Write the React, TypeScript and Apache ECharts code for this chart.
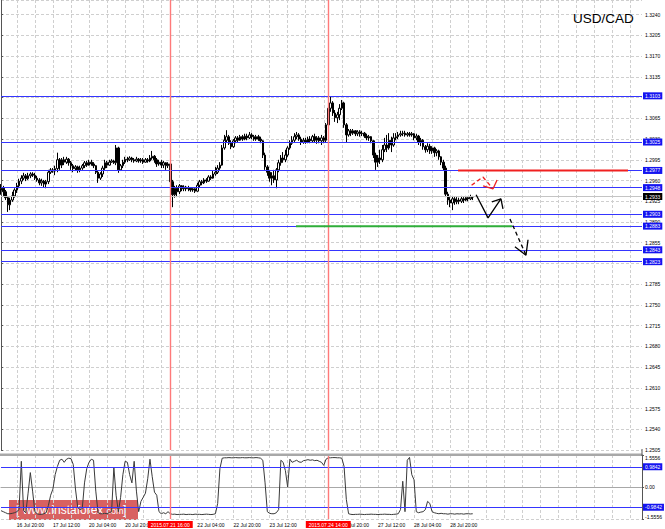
import React, { useEffect, useRef } from 'react';
import * as echarts from 'echarts';

// ---------- data ----------
const SYMBOL = 'USD/CAD';
const FIRST_BAR_UTC = Date.UTC(2015, 6, 16, 13); // 16 Jul 2015 13:00, H1 bars
const SLOT_COUNT = 285; // bars + empty right-hand shift

// [open, close, low, high]
const candles: number[][] = [
  [1.2944,1.2947,1.2936,1.2954],[1.2947,1.2941,1.2934,1.2951],[1.2941,1.2931,1.2927,1.2944],[1.2931,1.2919,1.2907,1.2934],[1.2919,1.2927,1.2910,1.2931],
  [1.2927,1.2934,1.2924,1.2941],[1.2934,1.2944,1.2931,1.2947],[1.2944,1.2951,1.2939,1.2956],[1.2951,1.2959,1.2947,1.2963],[1.2959,1.2964,1.2954,1.2969],
  [1.2964,1.2968,1.2961,1.2973],[1.2968,1.2963,1.2959,1.2971],[1.2963,1.2968,1.2961,1.2973],[1.2968,1.2971,1.2964,1.2974],[1.2971,1.2969,1.2966,1.2974],
  [1.2969,1.2964,1.2961,1.2973],[1.2964,1.2961,1.2958,1.2968],[1.2961,1.2956,1.2952,1.2964],[1.2956,1.2959,1.2951,1.2963],[1.2959,1.2954,1.2949,1.2961],
  [1.2954,1.2958,1.2947,1.2961],[1.2958,1.2974,1.2954,1.2978],[1.2974,1.2978,1.2971,1.2981],[1.2978,1.2976,1.2973,1.2981],[1.2976,1.2980,1.2969,1.2985],
  [1.2980,1.2995,1.2974,1.3007],[1.2995,1.2986,1.2978,1.2998],[1.2986,1.2995,1.2981,1.2998],[1.2995,1.2991,1.2986,1.3000],[1.2991,1.2996,1.2988,1.3000],
  [1.2996,1.2990,1.2985,1.2998],[1.2990,1.2985,1.2978,1.2993],[1.2985,1.2980,1.2974,1.2988],[1.2980,1.2983,1.2976,1.2986],[1.2983,1.2978,1.2973,1.2985],
  [1.2978,1.2981,1.2974,1.2985],[1.2981,1.2985,1.2978,1.2988],[1.2985,1.2990,1.2981,1.2993],[1.2990,1.2986,1.2983,1.2993],[1.2986,1.2991,1.2985,1.2995],
  [1.2991,1.2988,1.2985,1.2995],[1.2988,1.2985,1.2981,1.2991],[1.2985,1.2974,1.2971,1.2986],[1.2974,1.2964,1.2956,1.2976],[1.2964,1.2971,1.2961,1.2974],
  [1.2971,1.2981,1.2966,1.2985],[1.2981,1.2990,1.2978,1.2995],[1.2990,1.2986,1.2981,1.2993],[1.2986,1.2991,1.2985,1.2995],[1.2991,1.2993,1.2990,1.2996],
  [1.2993,1.2990,1.2988,1.2995],[1.2990,1.3015,1.2986,1.3020],[1.3015,1.2978,1.2973,1.3017],[1.2978,1.2985,1.2976,1.2988],[1.2985,1.2991,1.2981,1.2995],
  [1.2991,1.2996,1.2988,1.3000],[1.2996,1.2995,1.2991,1.3000],[1.2995,1.2998,1.2993,1.3001],[1.2998,1.2995,1.2991,1.3000],[1.2995,1.2993,1.2990,1.2998],
  [1.2993,1.2996,1.2991,1.3000],[1.2996,1.2993,1.2990,1.2998],[1.2993,1.2995,1.2990,1.2998],[1.2995,1.2991,1.2988,1.2998],[1.2991,1.2995,1.2990,1.2998],
  [1.2995,1.2993,1.2990,1.2998],[1.2993,1.2998,1.2991,1.3003],[1.2998,1.3001,1.2995,1.3010],[1.3001,1.2995,1.2990,1.3003],[1.2995,1.2988,1.2983,1.2998],
  [1.2988,1.2991,1.2985,1.2995],[1.2991,1.2986,1.2981,1.2995],[1.2986,1.2990,1.2981,1.2993],[1.2990,1.2985,1.2978,1.2991],[1.2985,1.2988,1.2981,1.2991],
  [1.2988,1.2958,1.2954,1.2990],[1.2958,1.2936,1.2915,1.2961],[1.2936,1.2947,1.2931,1.2951],[1.2947,1.2941,1.2932,1.2952],[1.2941,1.2951,1.2937,1.2954],
  [1.2951,1.2946,1.2942,1.2952],[1.2946,1.2949,1.2942,1.2952],[1.2949,1.2946,1.2942,1.2951],[1.2946,1.2947,1.2942,1.2951],[1.2947,1.2944,1.2941,1.2949],
  [1.2944,1.2946,1.2941,1.2949],[1.2946,1.2942,1.2939,1.2947],[1.2942,1.2952,1.2941,1.2956],[1.2952,1.2958,1.2949,1.2961],[1.2958,1.2956,1.2952,1.2961],
  [1.2956,1.2961,1.2954,1.2964],[1.2961,1.2959,1.2956,1.2964],[1.2959,1.2966,1.2958,1.2969],[1.2966,1.2964,1.2961,1.2969],[1.2964,1.2971,1.2963,1.2976],
  [1.2971,1.2974,1.2968,1.2983],[1.2974,1.2981,1.2971,1.2986],[1.2981,1.2986,1.2978,1.2991],[1.2986,1.3015,1.2985,1.3020],[1.3015,1.3028,1.3012,1.3037],
  [1.3028,1.3034,1.3025,1.3045],[1.3034,1.3023,1.3020,1.3037],[1.3023,1.3017,1.3013,1.3028],[1.3017,1.3027,1.3015,1.3030],[1.3027,1.3032,1.3023,1.3035],
  [1.3032,1.3028,1.3025,1.3035],[1.3028,1.3034,1.3027,1.3037],[1.3034,1.3030,1.3027,1.3037],[1.3030,1.3035,1.3028,1.3039],[1.3035,1.3032,1.3028,1.3039],
  [1.3032,1.3037,1.3030,1.3042],[1.3037,1.3034,1.3030,1.3040],[1.3034,1.3030,1.3027,1.3037],[1.3030,1.3034,1.3027,1.3037],[1.3034,1.3030,1.3027,1.3037],
  [1.3030,1.3027,1.3023,1.3034],[1.3027,1.3003,1.2998,1.3028],[1.3003,1.2983,1.2978,1.3007],[1.2983,1.2974,1.2968,1.2986],[1.2974,1.2964,1.2958,1.2978],
  [1.2964,1.2968,1.2952,1.2974],[1.2968,1.2961,1.2956,1.2978],[1.2961,1.2978,1.2947,1.2981],[1.2978,1.2990,1.2974,1.2995],[1.2990,1.2998,1.2985,1.3003],
  [1.2998,1.2995,1.2990,1.3008],[1.2995,1.3003,1.2991,1.3012],[1.3003,1.3015,1.3000,1.3018],[1.3015,1.3023,1.3012,1.3028],[1.3023,1.3028,1.3020,1.3035],
  [1.3028,1.3034,1.3025,1.3040],[1.3034,1.3037,1.3030,1.3042],[1.3037,1.3030,1.3027,1.3040],[1.3030,1.3025,1.3020,1.3034],[1.3025,1.3028,1.3022,1.3032],
  [1.3028,1.3025,1.3022,1.3032],[1.3025,1.3030,1.3023,1.3034],[1.3030,1.3027,1.3023,1.3035],[1.3027,1.3034,1.3025,1.3037],[1.3034,1.3028,1.3025,1.3039],
  [1.3028,1.3032,1.3022,1.3035],[1.3032,1.3027,1.3023,1.3035],[1.3027,1.3032,1.3020,1.3037],[1.3032,1.3028,1.3023,1.3035],[1.3028,1.3054,1.3025,1.3057],
  [1.3054,1.3082,1.3050,1.3088],[1.3082,1.3091,1.3076,1.3101],[1.3091,1.3074,1.3069,1.3094],[1.3074,1.3066,1.3059,1.3079],[1.3066,1.3071,1.3057,1.3076],
  [1.3071,1.3082,1.3062,1.3089],[1.3082,1.3091,1.3079,1.3096],[1.3091,1.3054,1.3049,1.3093],[1.3054,1.3037,1.3025,1.3057],[1.3037,1.3044,1.3034,1.3047],
  [1.3044,1.3040,1.3035,1.3047],[1.3040,1.3044,1.3037,1.3047],[1.3044,1.3039,1.3035,1.3045],[1.3039,1.3042,1.3035,1.3045],[1.3042,1.3039,1.3034,1.3045],
  [1.3039,1.3040,1.3035,1.3044],[1.3040,1.3035,1.3032,1.3042],[1.3035,1.3032,1.3028,1.3039],[1.3032,1.3034,1.3027,1.3037],[1.3034,1.3027,1.3023,1.3035],
  [1.3027,1.3003,1.2998,1.3028],[1.3003,1.2991,1.2978,1.3007],[1.2991,1.2998,1.2983,1.3003],[1.2998,1.2995,1.2988,1.3012],[1.2995,1.3012,1.2991,1.3020],
  [1.3012,1.3020,1.3008,1.3032],[1.3020,1.3015,1.3008,1.3037],[1.3015,1.3028,1.3012,1.3040],[1.3028,1.3020,1.3008,1.3034],[1.3020,1.3032,1.3017,1.3040],
  [1.3032,1.3034,1.3028,1.3040],[1.3034,1.3037,1.3030,1.3042],[1.3037,1.3039,1.3034,1.3044],[1.3039,1.3040,1.3035,1.3044],[1.3040,1.3037,1.3034,1.3044],
  [1.3037,1.3039,1.3034,1.3042],[1.3039,1.3037,1.3034,1.3042],[1.3037,1.3039,1.3034,1.3042],[1.3039,1.3032,1.3028,1.3040],[1.3032,1.3035,1.3028,1.3039],
  [1.3035,1.3025,1.3020,1.3037],[1.3025,1.3028,1.3018,1.3032],[1.3028,1.3017,1.3012,1.3030],[1.3017,1.3012,1.3007,1.3020],[1.3012,1.3018,1.3008,1.3023],
  [1.3018,1.3010,1.3005,1.3022],[1.3010,1.3015,1.3005,1.3018],[1.3015,1.3007,1.3000,1.3017],[1.3007,1.3010,1.3001,1.3013],[1.3010,1.3000,1.2995,1.3012],
  [1.3000,1.2991,1.2986,1.3001],[1.2991,1.2981,1.2976,1.2995],[1.2981,1.2937,1.2932,1.2985],[1.2937,1.2927,1.2919,1.2941],[1.2927,1.2922,1.2915,1.2932],
  [1.2922,1.2929,1.2910,1.2934],[1.2929,1.2924,1.2919,1.2932],[1.2924,1.2927,1.2920,1.2932],[1.2927,1.2925,1.2920,1.2931],[1.2925,1.2929,1.2922,1.2934],
  [1.2929,1.2927,1.2922,1.2932],[1.2927,1.2931,1.2925,1.2934],[1.2931,1.2929,1.2925,1.2932],[1.2929,1.2932,1.2927,1.2936],[1.2932,1.2933,1.2927,1.2934],
];

// oscillator in the lower window
const oscillator: number[] = [
  -1.15,-1.2,-1.25,-1.3,-1.3,-1.28,-1.25,-1.2,-1.1,1.25,
  -1.15,-1.25,-0.3,0.7,-0.2,-1.2,-1.3,-1.33,-1.33,-1.3,
  -1.25,-0.9,-0.4,-0.1,0.6,1.0,1.3,1.35,1.2,1.35,
  1.4,1.38,1.1,-0.1,-1.0,-1.1,-1.05,0.2,0.9,1.2,
  1.35,1.3,-0.2,-1.25,-1.3,-1.3,-1.28,-1.3,-1.25,-1.2,
  0.95,-0.4,-1.2,-0.5,0.6,1.25,1.2,0.6,0.2,1.25,
  -0.2,-1.2,-0.7,-0.5,-0.3,0.4,1.35,0.5,-0.25,-0.4,
  -1.2,-1.3,-1.25,-1.3,-1.2,-1.3,-1.33,-1.32,-1.34,-1.33,
  -1.33,-1.32,-1.34,-1.33,-1.33,-1.34,-1.32,-1.33,-1.33,-1.34,
  -1.33,-1.32,-1.33,-1.34,-1.33,-1.3,-0.8,0.9,1.4,1.42,
  1.42,1.43,1.42,1.42,1.43,1.42,1.42,1.43,1.42,1.42,
  1.43,1.42,1.42,1.43,1.42,1.4,1.3,0.2,-1.2,-1.28,
  -1.3,-1.3,-1.25,-1.1,1.3,1.2,0.8,0.0,1.35,1.2,
  1.25,1.3,1.22,1.2,1.28,1.3,1.33,1.3,1.32,1.28,
  1.3,1.25,1.2,1.05,1.35,1.42,1.42,1.43,1.43,1.42,
  1.42,1.4,1.0,-0.6,-1.3,-1.33,-1.34,-1.33,-1.33,-1.32,
  -1.33,-1.34,-1.33,-1.33,-1.32,-1.33,-1.33,-1.34,-1.33,-1.33,
  -1.32,-1.33,-1.33,-1.34,-1.33,-1.32,-1.3,-1.1,0.28,-1.2,
  1.3,1.44,0.6,0.35,-1.2,-1.25,-1.22,-1.2,-1.1,-0.7,
  -0.8,-1.2,-1.25,-1.28,-1.3,-1.28,-1.3,-1.3,-1.32,-1.3,
  -1.3,-1.32,-1.3,-1.31,-1.3,-1.32,-1.3,-1.3,-1.31,-1.3,
];

const supportResistance = [1.3103, 1.3025, 1.2977, 1.2948, 1.2903, 1.2883, 1.2843, 1.2823];
const currentPrice = 1.2933;
const oscLevels = [0.9842, -0.9842];
const eventTimes = ['21 Jul 16:00', '24 Jul 14:00'];
const eventLabels = ['2015.07.21 16:00', '2015.07.24 14:00'];

// annotations in [bar index, price]
const redSegment = [[202.5, 1.2977], [277.8, 1.2977]];
const greenSegment = [[130.7, 1.2883], [226.4, 1.2883]];
const redArrowPath = [[208.5, 1.2952], [213.5, 1.2966], [218, 1.2946]];
const redArrowHead = [[213.6, 1.2951], [218, 1.2946], [219.8, 1.2961]];
const blackArrowPath = [[210.5, 1.2936], [215.8, 1.2897], [221.5, 1.2929]];
const blackArrowHead = [[217.5, 1.2924], [221.5, 1.2929], [222.4, 1.2912]];
const dashArrowPath = [[225.5, 1.2895], [232.6, 1.2834]];
const dashArrowHead = [[227.7, 1.2848], [232.6, 1.2834], [233.5, 1.2860]];

const MONTHS = ['Jan','Feb','Mar','Apr','May','Jun','Jul','Aug','Sep','Oct','Nov','Dec'];

function buildCategories(): string[] {
  const out: string[] = [];
  let t = FIRST_BAR_UTC;
  while (out.length < candles.length) {
    const d = new Date(t);
    const wd = d.getUTCDay();
    if (wd !== 0 && wd !== 6) {
      const hh = String(d.getUTCHours()).padStart(2, '0');
      out.push(`${d.getUTCDate()} ${MONTHS[d.getUTCMonth()]} ${hh}:00`);
    }
    t += 3600000;
  }
  for (let i = out.length; i < SLOT_COUNT; i++) out.push(`_${i}`);
  return out;
}

const FONT = 'Liberation Sans, Arial, sans-serif';
const BLUE_LINE = '#3535ff';
const BLUE_BOX = '#1414f0';

export default function App() {
  const ref = useRef<HTMLDivElement>(null);
  useEffect(() => {
    if (!ref.current) return;
    const chart = echarts.init(ref.current, null, { renderer: 'svg' });
    const cats = buildCategories();
    const nBars = candles.length;
    const eventIdx = eventTimes.map((t) => cats.indexOf(t));
    const gridSplit = (i: number) => i % 8 === 7;
    const dashed = { color: '#cfcfcf', type: [3, 2] as any, width: 1 };
    const box = (txt: string, bg: string) => ({
      show: true, position: 'end', distance: 1, formatter: txt,
      backgroundColor: bg, color: '#fff', fontSize: 5, fontFamily: FONT,
      padding: [1, 2, 1, 2],
    });

    // horizontal levels + event verticals, placed through the value x axis of the price window
    const levelLines: any[] = [
      { yAxis: currentPrice, lineStyle: { color: '#c4c4c4', width: 1, type: 'solid' }, label: box(currentPrice.toFixed(4), '#000') },
      ...supportResistance.map((p) => ({
        yAxis: p, lineStyle: { color: BLUE_LINE, width: 1, type: 'solid' }, label: box(p.toFixed(4), BLUE_BOX),
      })),
      ...eventIdx.map((i) => ({ xAxis: i, lineStyle: { color: '#ff7a7a', width: 1.4, type: 'solid' }, label: { show: false } })),
    ];

    const oscLines: any[] = [
      ...oscLevels.map((v) => ({
        yAxis: v, lineStyle: { color: BLUE_LINE, width: 1, type: 'solid' }, label: box(v.toFixed(4), BLUE_BOX),
      })),
      ...eventTimes.map((t, k) => ({
        xAxis: t, lineStyle: { color: '#ff7a7a', width: 1.4, type: 'solid' },
        label: {
          show: true, position: 'start', distance: 2, formatter: eventLabels[k],
          backgroundColor: '#ff0000', color: '#fff', fontSize: 5, fontFamily: FONT, padding: [1, 3, 1, 3],
        },
      })),
    ];

    const overlay = (data: number[][], color: string, width: number, type: any, extra: any = {}) => ({
      type: 'line', xAxisIndex: 2, yAxisIndex: 0, data, showSymbol: false, symbol: 'none',
      silent: true, z: 5, lineStyle: { color, width, type }, animation: false, ...extra,
    });

    const priceLabel = (v: number) => {
      // tick labels sitting right under a level box are covered in the terminal
      if (supportResistance.some((p) => Math.abs(p - v) < 0.00045)) return '';
      return v.toFixed(4);
    };

    const option: any = {
      animation: false,
      backgroundColor: '#ffffff',
      title: {
        text: SYMBOL, left: 568, top: 6,
        textStyle: { fontSize: 13.5, fontWeight: 'normal', color: '#000', fontFamily: FONT },
      },
      grid: [
        { left: 1, width: 641, top: 0, height: 450 },
        { left: 1, width: 641, top: 455, height: 64 },
      ],
      xAxis: [
        {
          type: 'category', gridIndex: 0, data: cats, boundaryGap: false,
          axisLine: { show: false }, axisTick: { show: false }, axisLabel: { show: false },
          splitLine: { show: true, interval: gridSplit, lineStyle: dashed },
        },
        {
          type: 'category', gridIndex: 1, data: cats, boundaryGap: false,
          axisLine: { show: true, lineStyle: { color: '#a8a8a8', width: 1 } }, axisTick: { show: false },
          axisLabel: {
            show: true,
            interval: (i: number) => i % 16 === 7 && i < nBars && !eventIdx.some((e) => i > e - 11 && i < e + 5),
            align: 'left', fontSize: 5, color: '#000', margin: 3, fontFamily: FONT,
          },
          splitLine: { show: true, interval: gridSplit, lineStyle: dashed },
        },
        { type: 'value', gridIndex: 0, min: 0, max: SLOT_COUNT - 1, show: false },
      ],
      yAxis: [
        {
          type: 'value', gridIndex: 0, position: 'right', min: 1.2505, max: 1.32648, interval: 0.0035,
          axisLine: { show: true, lineStyle: { color: '#555', width: 1 } },
          axisTick: { show: true, length: 2, lineStyle: { color: '#555' } },
          axisLabel: {
            fontSize: 5, color: '#000', margin: 3, fontFamily: FONT, showMaxLabel: false,
            formatter: priceLabel,
          },
          splitLine: { show: true, lineStyle: dashed },
        },
        {
          type: 'value', gridIndex: 1, position: 'right', min: -1.5556, max: 1.5556, interval: 1.5556,
          axisLine: { show: true, lineStyle: { color: '#555', width: 1 } },
          axisTick: { show: true, length: 2, lineStyle: { color: '#555' } },
          axisLabel: {
            fontSize: 5, color: '#000', margin: 3, fontFamily: FONT,
            verticalAlignMaxLabel: 'top', verticalAlignMinLabel: 'bottom',
            formatter: (v: number) => (Math.abs(v) < 1e-9 ? '0.00' : v.toFixed(4)),
          },
          splitLine: { show: true, lineStyle: dashed },
        },
      ],
      series: [
        overlay([], '#000', 1, 'solid', {
          name: 'levels', z: 1,
          markLine: { silent: true, symbol: 'none', animation: false, precision: 6, data: levelLines },
        }),
        {
          type: 'candlestick', name: SYMBOL, xAxisIndex: 0, yAxisIndex: 0, data: candles, z: 3,
          barWidth: 2,
          itemStyle: { color: '#ffffff', color0: '#000000', borderColor: '#000000', borderColor0: '#000000', borderWidth: 1 },
        },
        {
          type: 'line', name: 'osc', xAxisIndex: 1, yAxisIndex: 1, data: oscillator,
          showSymbol: false, symbol: 'none', lineStyle: { color: '#3a3a3a', width: 1 },
          markLine: { silent: true, symbol: 'none', animation: false, precision: 6, data: oscLines },
        },
        overlay(redSegment, '#f02020', 2, 'solid'),
        overlay(greenSegment, '#2fae3a', 2, 'solid'),
        overlay(redArrowPath, '#ee2222', 1.3, [4, 3]),
        overlay(redArrowHead, '#ee2222', 1.3, 'solid'),
        overlay(blackArrowPath, '#000', 1.3, 'solid'),
        overlay(blackArrowHead, '#000', 1.3, 'solid'),
        overlay(dashArrowPath, '#000', 1.3, [4, 3]),
        overlay(dashArrowHead, '#000', 1.3, 'solid'),
      ],
      graphic: [
        { type: 'rect', shape: { x: 0, y: 453.5, width: 642, height: 2.5 }, style: { fill: '#a8a8a8' }, z: 50, silent: true },
        { type: 'line', shape: { x1: 642, y1: 449, x2: 642, y2: 456 }, style: { stroke: '#555', lineWidth: 1 }, z: 50, silent: true },
        {
          type: 'group', x: 9, y: 500, z: 100, silent: true,
          children: [
            { type: 'rect', shape: { x: 0, y: 0, width: 129, height: 20 }, style: { fill: 'rgba(208,62,62,0.82)' } },
            {
              type: 'text', x: 7, y: 10,
              style: { text: '[ www.instaforex', fontSize: 12, fontFamily: FONT, fill: '#ffffff', verticalAlign: 'middle' },
            },
            {
              type: 'text', x: 95, y: 11,
              style: { text: '.com', fontSize: 9, fontFamily: FONT, fill: '#ffffff', verticalAlign: 'middle' },
            },
            {
              type: 'text', x: 114, y: 10,
              style: { text: ']', fontSize: 12, fontFamily: FONT, fill: '#ffffff', verticalAlign: 'middle' },
            },
          ],
        },
      ],
    };
    chart.setOption(option);
    return () => chart.dispose();
  }, []);
  return <div ref={ref} style={{ position: 'fixed', left: 0, top: 0, width: 665, height: 529, background: '#fff' }} />;
}
